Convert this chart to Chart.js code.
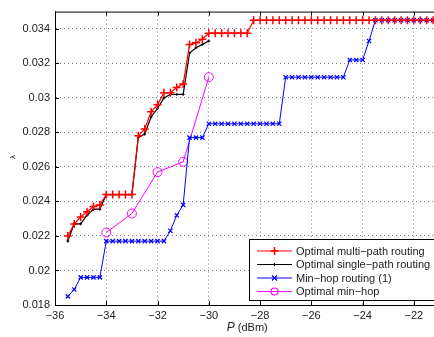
<!DOCTYPE html>
<html>
<head>
<meta charset="utf-8">
<script src="https://cdn.jsdelivr.net/npm/chart.js@4/dist/chart.umd.min.js"></script>
<style>
  body { margin: 0; background: #fff; overflow: hidden; }
  #wrap { width: 445px; height: 337px; }
</style>
</head>
<body>
<div id="wrap"><canvas id="graf1"></canvas></div>
<script>
// transmit power grid (dBm) shared by the step curves
var powerGrid = [-35.5, -35.25, -35, -34.75, -34.5, -34.25, -34, -33.75, -33.5, -33.25,
  -33, -32.75, -32.5, -32.25, -32, -31.75, -31.5, -31.25, -31, -30.75,
  -30.5, -30.25, -30, -29.75, -29.5, -29.25, -29, -28.75, -28.5, -28.25,
  -28, -27.75, -27.5, -27.25, -27, -26.75, -26.5, -26.25, -26, -25.75,
  -25.5, -25.25, -25, -24.75, -24.5, -24.25, -24, -23.75, -23.5, -23.25,
  -23, -22.75, -22.5, -22.25, -22, -21.75, -21.5, -21.25, -21];

var multiPath = [0.0220, 0.0227, 0.0231, 0.0234, 0.0237, 0.0238, 0.0244, 0.0244, 0.0244, 0.0244,
  0.0244, 0.0278, 0.0282, 0.0292, 0.0296, 0.0303, 0.0303, 0.0306, 0.0308, 0.0331,
  0.0332, 0.0334, 0.03375, 0.03375, 0.03375, 0.03375, 0.03375, 0.03375, 0.03375, 0.0345,
  0.0345, 0.0345, 0.0345, 0.0345, 0.0345, 0.0345, 0.0345, 0.0345, 0.0345, 0.0345,
  0.0345, 0.0345, 0.0345, 0.0345, 0.0345, 0.0345, 0.0345, 0.0345, 0.0345, 0.0345,
  0.0345, 0.0345, 0.0345, 0.0345, 0.0345, 0.0345, 0.0345, 0.0345, 0.0345];

// single-path only solved up to -30 dBm
var singlePath = [0.0217, 0.0227, 0.0227, 0.0232, 0.02355, 0.02355, 0.0244, 0.0244, 0.0244, 0.0244,
  0.0244, 0.0277, 0.0279, 0.0289, 0.0294, 0.0300, 0.0302, 0.0302, 0.0302, 0.0326,
  0.0329, 0.0331, 0.0333];

var minHop = [0.0185, 0.0189, 0.0196, 0.0196, 0.0196, 0.0196, 0.0217, 0.0217, 0.0217, 0.0217,
  0.0217, 0.0217, 0.0217, 0.0217, 0.0217, 0.0217, 0.0223, 0.0232, 0.0238, 0.0277,
  0.0277, 0.0277, 0.0285, 0.0285, 0.0285, 0.0285, 0.0285, 0.0285, 0.0285, 0.0285,
  0.0285, 0.0285, 0.0285, 0.0285, 0.0312, 0.0312, 0.0312, 0.0312, 0.0312, 0.0312,
  0.0312, 0.0312, 0.0312, 0.0312, 0.0322, 0.0322, 0.0322, 0.0333, 0.0345, 0.0345,
  0.0345, 0.0345, 0.0345, 0.0345, 0.0345, 0.0345, 0.0345, 0.0345, 0.0345];

var optMinHopPower = [-34, -33, -32, -31, -30];
var optMinHop = [0.0222, 0.0233, 0.0257, 0.0263, 0.0312];

var xTicks = [-36, -34, -32, -30, -28, -26, -24, -22];
var yTicks = [0.018, 0.02, 0.022, 0.024, 0.026, 0.028, 0.03, 0.032, 0.034];
var yTickLabels = ['0.018', '0.02', '0.022', '0.024', '0.026', '0.028', '0.03', '0.032', '0.034'];

var seriesNames = ['Optimal multi\u2212path routing', 'Optimal single\u2212path routing',
  'Min\u2212hop routing (1)', 'Optimal min\u2212hop'];
var seriesColors = ['#ff0000', '#000000', '#0000ff', '#ff00ff'];

function pairs(xs, ys) {
  return ys.map(function(v, i) { return { x: xs[i], y: v }; });
}

var FONT = '"Liberation Sans", Arial, sans-serif';

// frame, inward ticks, axis titles and the in-plot legend
var matlabBits = {
  id: 'matlabBits',
  afterDraw: function(chart) {
    var ctx = chart.ctx;
    var a = chart.chartArea;
    var xs = chart.scales.x, ys = chart.scales.y;
    ctx.save();
    ctx.strokeStyle = '#000';
    ctx.lineWidth = 1;
    ctx.beginPath();
    ctx.moveTo(a.left, a.top + 0.5);
    ctx.lineTo(a.right, a.top + 0.5);
    ctx.moveTo(a.right - 0.5, a.top);
    ctx.lineTo(a.right - 0.5, a.bottom);
    xTicks.forEach(function(t) {
      var px = Math.round(xs.getPixelForValue(t)) + 0.5;
      ctx.moveTo(px, a.bottom); ctx.lineTo(px, a.bottom - 4);
      ctx.moveTo(px, a.top); ctx.lineTo(px, a.top + 4);
    });
    yTicks.forEach(function(t) {
      var py = Math.round(ys.getPixelForValue(t)) + 0.5;
      ctx.moveTo(a.left, py); ctx.lineTo(a.left + 4, py);
    });
    ctx.stroke();

    // x title: italic P then units
    ctx.fillStyle = '#222';
    ctx.textBaseline = 'middle';
    ctx.font = 'italic 12px ' + FONT;
    var w1 = ctx.measureText('P').width;
    ctx.font = '11px ' + FONT;
    var w2 = ctx.measureText(' (dBm)').width;
    var cx = (a.left + a.right) / 2 - (w1 + w2) / 2;
    ctx.textAlign = 'left';
    ctx.font = 'italic 12px ' + FONT;
    ctx.fillText('P', cx, 328);
    ctx.font = '11px ' + FONT;
    ctx.fillText(' (dBm)', cx + w1, 328);

    // y title
    ctx.save();
    ctx.translate(13, 157);
    ctx.rotate(-Math.PI / 2);
    ctx.textAlign = 'center';
    ctx.font = '8px ' + FONT;
    ctx.fillText('\u03bb', 0, 0);
    ctx.restore();

    // legend box
    var bx = 249.5, by = 239.5, bw = 200, bh = 61;
    ctx.fillStyle = '#fff';
    ctx.fillRect(bx, by, bw, bh);
    ctx.strokeStyle = '#000';
    ctx.strokeRect(bx, by, bw, bh);
    var rowY = [251, 264.5, 278, 291.5];
    seriesNames.forEach(function(name, i) {
      var y = rowY[i], c = seriesColors[i], mx = 274.5;
      ctx.strokeStyle = c;
      ctx.lineWidth = 1.2;
      ctx.beginPath();
      ctx.moveTo(257, y); ctx.lineTo(292, y);
      ctx.stroke();
      ctx.beginPath();
      if (i === 0) {
        ctx.lineWidth = 1.5;
        ctx.moveTo(mx - 4, y); ctx.lineTo(mx + 4, y);
        ctx.moveTo(mx, y - 4); ctx.lineTo(mx, y + 4);
      } else if (i === 1) {
        ctx.moveTo(mx, y - 1.5); ctx.lineTo(mx, y + 1.5);
      } else if (i === 2) {
        ctx.moveTo(mx - 2.5, y - 2.5); ctx.lineTo(mx + 2.5, y + 2.5);
        ctx.moveTo(mx - 2.5, y + 2.5); ctx.lineTo(mx + 2.5, y - 2.5);
      } else {
        ctx.arc(mx, y, 3.5, 0, Math.PI * 2);
      }
      ctx.stroke();
      ctx.fillStyle = '#222';
      ctx.font = '11px ' + FONT;
      ctx.textAlign = 'left';
      ctx.fillText(name, 296, y + 0.5);
    });
    ctx.restore();
  }
};

var g1 = document.getElementById('graf1');

var chart = new Chart(g1, {
  type: 'line',
  data: {
    datasets: [
      {
        label: seriesNames[0],
        data: pairs(powerGrid, multiPath),
        borderColor: seriesColors[0],
        borderWidth: 1.2,
        pointStyle: 'cross',
        pointRadius: 4,
        pointBorderWidth: 1.5,
        pointBorderColor: seriesColors[0],
        fill: false
      },
      {
        label: seriesNames[1],
        data: pairs(powerGrid, singlePath),
        borderColor: seriesColors[1],
        borderWidth: 1.2,
        pointStyle: 'cross',
        pointRadius: 1.5,
        pointBorderWidth: 1,
        pointBorderColor: seriesColors[1],
        fill: false
      },
      {
        label: seriesNames[2],
        data: pairs(powerGrid, minHop),
        borderColor: seriesColors[2],
        borderWidth: 1,
        pointStyle: 'crossRot',
        pointRadius: 3,
        pointBorderWidth: 1.2,
        pointBorderColor: seriesColors[2],
        fill: false
      },
      {
        label: seriesNames[3],
        data: pairs(optMinHopPower, optMinHop),
        borderColor: seriesColors[3],
        borderWidth: 1,
        pointStyle: 'circle',
        pointRadius: 4.5,
        pointBorderWidth: 1,
        pointBorderColor: seriesColors[3],
        pointBackgroundColor: 'rgba(0,0,0,0)',
        fill: false
      }
    ]
  },
  options: {
    responsive: true,
    maintainAspectRatio: false,
    animation: false,
    layout: { padding: { top: 8, right: 4, left: 0, bottom: 0 } },
    plugins: {
      legend: { display: false },
      tooltip: { enabled: false }
    },
    scales: {
      x: {
        type: 'linear',
        min: -36,
        max: -21,
        afterBuildTicks: function(scale) {
          scale.ticks = xTicks.map(function(v) { return { value: v }; });
        },
        afterFit: function(scale) { scale.height = 32; },
        ticks: {
          padding: 4,
          color: '#222',
          font: { family: FONT, size: 11 },
          callback: function(v) { return String(v).replace('-', '\u2212'); }
        },
        grid: {
          color: 'rgba(0,0,0,0.5)',
          lineWidth: 1,
          drawTicks: false
        },
        border: { display: true, color: '#000', width: 1, dash: [1, 3] }
      },
      y: {
        type: 'linear',
        min: 0.018,
        max: 0.035,
        afterBuildTicks: function(scale) {
          scale.ticks = yTicks.map(function(v) { return { value: v }; });
        },
        afterFit: function(scale) { scale.width = 55; },
        ticks: {
          padding: 5,
          color: '#222',
          font: { family: FONT, size: 11 },
          callback: function(v, i) { return yTickLabels[i]; }
        },
        grid: {
          color: 'rgba(0,0,0,0.5)',
          lineWidth: 1,
          drawTicks: false
        },
        border: { display: true, color: '#000', width: 1, dash: [1, 3] }
      }
    }
  },
  plugins: [matlabBits]
});
</script>
</body>
</html>
